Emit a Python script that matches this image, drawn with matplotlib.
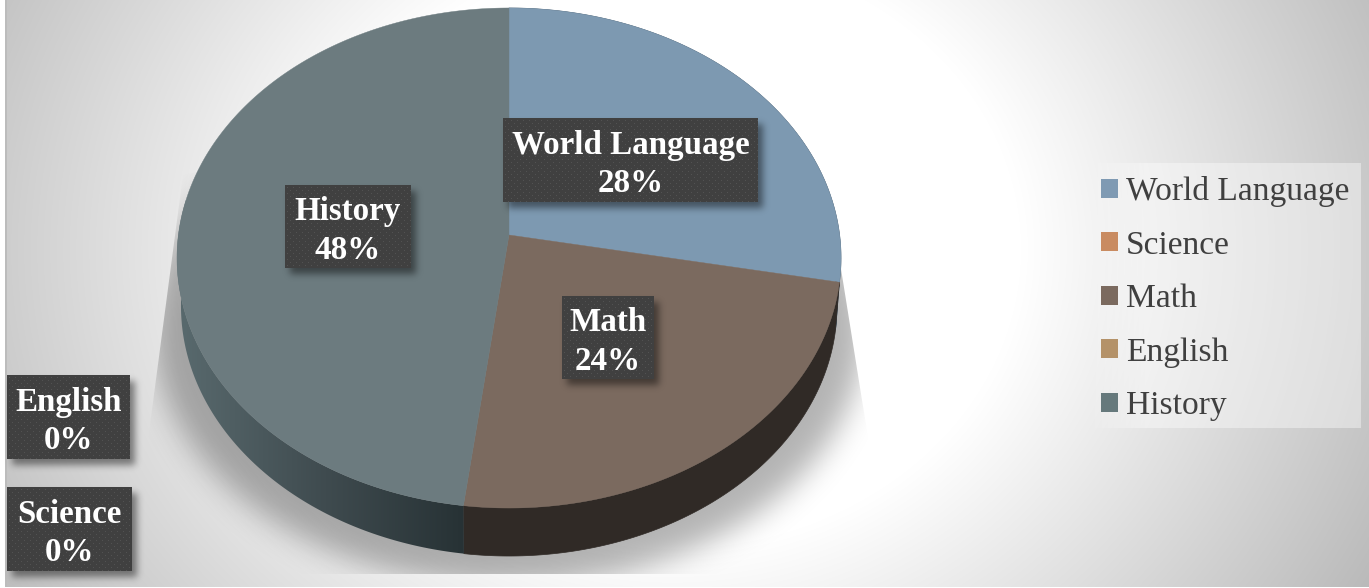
import numpy as np
import matplotlib
matplotlib.use("Agg")
import matplotlib.pyplot as plt
from matplotlib.patches import Patch, Polygon, Rectangle
from matplotlib.colors import LinearSegmentedColormap

# ---- data ----
categories = ["World Language", "Science", "Math", "English", "History"]
percent = [28, 0, 24, 0, 48]
legend_colors = ["#7f9ab3", "#c98b61", "#7b6a5f", "#b49269", "#66797c"]
face_colors = ["#7d99b1", "#c98b61", "#7b6a5f", "#b49269", "#6c7b7f"]
wall_colors = ["#4f6272", "#7d5637", "#302a26", "#6f5a40", "#3f4b4e"]

W, H = 1369, 588
fig = plt.figure(figsize=(W / 100, H / 100), dpi=100, facecolor="white")
ax = fig.add_axes([0, 0, 1, 1])
ax.set_xlim(0, W)
ax.set_ylim(H, 0)
ax.axis("off")


def blur(a, sigma):
    fy = np.fft.fftfreq(a.shape[0])[:, None]
    fx = np.fft.rfftfreq(a.shape[1])[None, :]
    g = np.exp(-2 * (np.pi * sigma) ** 2 * (fx ** 2 + fy ** 2))
    return np.fft.irfft2(np.fft.rfft2(a) * g, s=a.shape)


yy, xx = np.mgrid[0:H, 0:W] + 0.5

# ---- page background: soft radial gradient ----
t = np.hypot((xx - 670) / 700, (yy - 250) / 600)
bg = np.clip(1 - np.clip(t - 0.5, 0, None) * 0.42, 0, 1)
rgb = np.dstack([bg, bg, bg])
ax.imshow(rgb, extent=(5, W, 587, 0), aspect="auto", interpolation="bilinear", zorder=0)
ax.add_patch(Rectangle((5, 0), 1.5, 587, fc="#bcbcbc", ec="none", zorder=1))

# ---- ground shadow of the pie, clipped to its cast shape ----
ell = (((xx - 509) / 355) ** 2 + ((yy - 330) / 255) ** 2 <= 1).astype(float)
pad = 60
big = np.pad(ell, pad, mode="edge")
soft = blur(big, 15)[pad:-pad, pad:-pad]
sh = np.zeros((H, W, 4))
sh[..., 3] = soft * 0.30
sim = ax.imshow(sh, extent=(0, W, H, 0), aspect="auto", zorder=2)
clip_shape = Polygon([(183, 175), (148, 440), (148, 574), (872, 574), (872, 460),
                      (862, 400), (838, 250), (509, 100)], transform=ax.transData, fc="none", ec="none")
ax.add_patch(clip_shape)
sim.set_clip_path(clip_shape)

# ---- projected pie (perspective of a unit circle) ----
CX, CY, A, B, P = 509, 235, 330.6, 247.9, 0.092
DEPTH = 48


def project(theta, scale=1.0, drop=0.0):
    u, v = np.sin(theta), np.cos(theta)
    w = 1 + P * v
    return CX + scale * A * u / w, CY - B * v / w + drop


values = np.array(percent, dtype=float)
edges = np.concatenate([[0], np.cumsum(values)]) / values.sum() * 2 * np.pi

# side wall first, the top face over it
for i, cat in enumerate(categories):
    if values[i] == 0:
        continue
    th = np.linspace(edges[i], edges[i + 1], 240)
    x0, y0 = project(th)
    x1, y1 = project(th, 0.988, DEPTH)
    poly = np.column_stack([np.r_[x0, x1[::-1]], np.r_[y0, y1[::-1]]])
    if cat == "History":
        cmap = LinearSegmentedColormap.from_list("wall", ["#596a6e", "#404c50", "#273235"])
        grad = np.linspace(0, 1, 256)[None, :]
        im = ax.imshow(grad, cmap=cmap, extent=(x0.min(), project(edges[i])[0], 600, 200),
                       aspect="auto", zorder=3)
        pat = Polygon(poly, transform=ax.transData, fc="none", ec="none")
        ax.add_patch(pat)
        im.set_clip_path(pat)
    else:
        ax.add_patch(Polygon(poly, fc=wall_colors[i], ec=wall_colors[i], lw=0.5, zorder=3))

for i, cat in enumerate(categories):
    if values[i] == 0:
        continue
    th = np.linspace(edges[i], edges[i + 1], 400)
    x0, y0 = project(th)
    poly = np.column_stack([np.r_[CX, x0], np.r_[CY, y0]])
    ax.add_patch(Polygon(poly, fc=face_colors[i], ec=face_colors[i], lw=0.3, zorder=4))

# ---- data labels: dark dotted boxes with soft shadow ----
boxes = {
    "World Language": (503, 118, 758, 202),
    "Science": (7, 487, 132, 571),
    "Math": (562, 296, 654, 379),
    "English": (7, 375, 130, 459),
    "History": (285, 185, 411, 268),
}
for cat, val in zip(categories, percent):
    x0, y0, x1, y1 = boxes[cat]
    m = 24
    gx0, gy0, gx1, gy1 = x0 - m + 6, y0 - m + 6, x1 + m + 6, y1 + m + 6
    gy, gx = np.mgrid[gy0:gy1, gx0:gx1]
    r = ((gx >= x0 + 5) & (gx < x1 + 5) & (gy >= y0 + 6) & (gy < y1 + 6)).astype(float)
    sa = np.zeros(r.shape + (4,))
    sa[..., 3] = blur(r, 3.5) * 0.45
    ax.imshow(sa, extent=(gx0, gx1, gy1, gy0), aspect="auto", zorder=5)
    py, px = np.mgrid[y0:y1, x0:x1]
    tile = np.full(px.shape, 0x40 / 255)
    row = (py - y0 - 2) // 3
    dots = ((py - y0 - 2) % 3 == 0) & ((px - x0 - 2 + (row % 2) * 3) % 6 == 0)
    tile[dots] = 0x52 / 255
    ax.imshow(np.dstack([tile] * 3), extent=(x0, x1, y1, y0), aspect="auto", interpolation="nearest", zorder=6)
    ax.text((x0 + x1) / 2, (y0 + y1) / 2 + 4.5, f"{cat}\n{val}%", ha="center", va="center",
            family="Liberation Serif", weight="bold", fontsize=23.8, color="white",
            linespacing=1.3, zorder=7)

# ---- legend panel: translucent, melting into the white on its left ----
panel = np.ones((1, 275, 4))
panel[0, :, 3] = np.clip(np.arange(275) / 60, 0, 1) * 0.4
ax.imshow(panel, extent=(1086, 1361, 428, 163), aspect="auto", zorder=5)
handles = [Patch(fc=c, ec="none") for c in legend_colors]
ax.legend(handles, categories, loc="upper left", bbox_to_anchor=(1101, 176),
          bbox_transform=ax.transData, frameon=False, borderpad=0, borderaxespad=0,
          prop={"family": "Liberation Serif", "size": 24.1}, labelcolor="#404040",
          handlelength=0.5, handleheight=0.5, handletextpad=0.24, labelspacing=0.69)

ax.set_xlim(0, W)
ax.set_ylim(H, 0)
fig.savefig("out.png", dpi=100, facecolor="white")
